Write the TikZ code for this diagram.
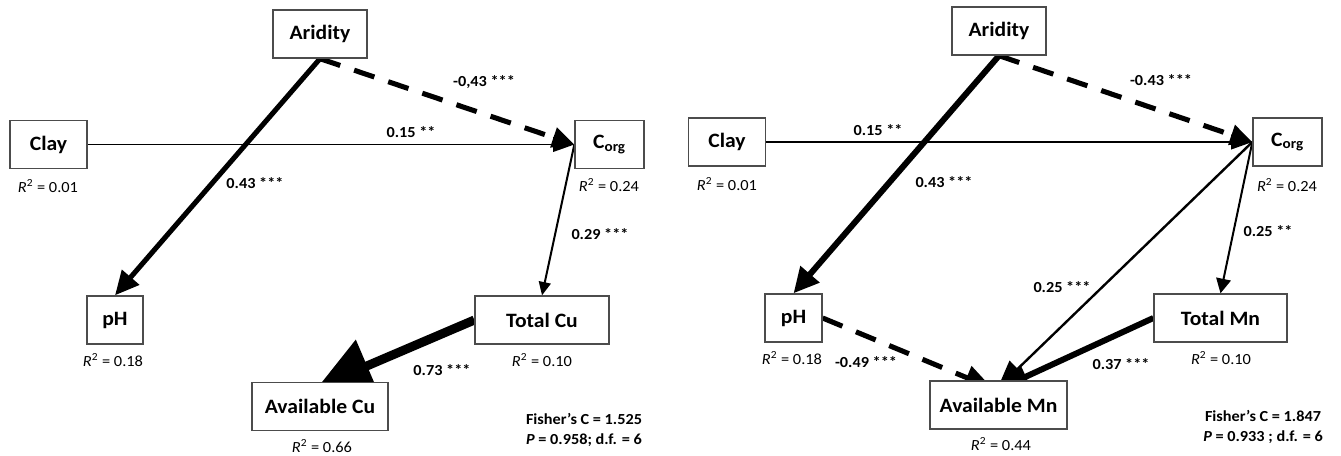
\documentclass[tikz,border=0pt]{standalone}
\usepackage{fontspec}
\setmainfont{Carlito}[FakeStretch=1.06]
\usetikzlibrary{arrows.meta, calc}
\pgfdeclarelayer{back}
\pgfsetlayers{back,main}

\begin{document}
\begin{tikzpicture}[
    x=0.75pt, y=-0.75pt,
    var/.style={draw=black!70, line width=1pt, fill=white, inner sep=0pt,
      minimum height=36pt, font=\bfseries\fontsize{15.3}{18}\selectfont},
    rsq/.style={inner sep=0pt, font=\fontsize{11.6}{13}\selectfont},
    coef/.style={inner sep=0pt, font=\bfseries\fontsize{11.5}{13}\selectfont},
    stats/.style={inner sep=0pt, align=center, font=\bfseries\fontsize{11.5}{15}\selectfont},
    weak/.style={line width=1.5pt, -{Triangle[length=10pt, width=9pt]}},
    strong/.style={line width=3.8pt, -{Triangle[length=18pt, width=16.5pt]}},
    neg/.style={strong, dash pattern=on 16pt off 11pt}
]
\useasboundingbox (0,0) rectangle (1341,455);

\node[var, minimum width=70.5pt] (ar1) at (320,34) {Aridity};
\node[var, minimum width=57.75pt] (cl1) at (48.5,144.5) {Clay};
\node[var, minimum width=51.75pt] (co1) at (609.5,144.5) {C\textsubscript{org}};
\node[var, minimum width=42pt] (ph1) at (115,320) {pH};
\node[var, minimum width=100.5pt] (tc1) at (542,320) {Total Cu};
\node[var, minimum width=102pt] (av1) at (320,406.5) {Available Cu};

\node[rsq] (rcl1) at (48,186) {\textit{R}\textsuperscript{2} = 0.01};
\node[rsq] (rco1) at (609,185) {\textit{R}\textsuperscript{2} = 0.24};
\node[rsq] (rph1) at (113,360) {\textit{R}\textsuperscript{2} = 0.18};
\node[rsq] (rtc1) at (542,360) {\textit{R}\textsuperscript{2} = 0.10};
\node[rsq] (rav1) at (322,446) {\textit{R}\textsuperscript{2} = 0.66};

\node[coef] (k11) at (484,82) {-0,43 ***};
\node[coef] (k12) at (411,132) {0.15 **};
\node[coef] (k13) at (255,183) {0.43 ***};
\node[coef] (k14) at (600,234) {0.29 ***};
\node[coef] (k15) at (442,370) {0.73 ***};
\node[stats] (fs1) at (584,430) {Fisher’s C = 1.525\\\textit{P} = 0.958; d.f. = 6};

\node[var, minimum width=70.5pt] (ar2) at (999,31) {Aridity};
\node[var, minimum width=57.75pt] (cl2) at (727,142) {Clay};
\node[var, minimum width=51.75pt] (co2) at (1287.5,142) {C\textsubscript{org}};
\node[var, minimum width=42.75pt] (ph2) at (793.5,318) {pH};
\node[var, minimum width=99.75pt] (tm2) at (1220.5,318) {Total Mn};
\node[var, minimum width=102.75pt] (av2) at (998.5,405) {Available Mn};

\node[rsq] (rcl2) at (727,184) {\textit{R}\textsuperscript{2} = 0.01};
\node[rsq] (rco2) at (1287,185) {\textit{R}\textsuperscript{2} = 0.24};
\node[rsq] (rph2) at (792,358) {\textit{R}\textsuperscript{2} = 0.18};
\node[rsq] (rtm2) at (1221,358) {\textit{R}\textsuperscript{2} = 0.10};
\node[rsq] (rav2) at (1001,444) {\textit{R}\textsuperscript{2} = 0.44};

\node[coef] (k21) at (1161,80) {-0.43 ***};
\node[coef] (k22) at (878,130) {0.15 **};
\node[coef] (k23) at (944,182) {0.43 ***};
\node[coef] (k24) at (1268,231) {0.25 **};
\node[coef] (k25) at (1062,287) {0.25 ***};
\node[coef] (k26) at (866,362) {-0.49 ***};
\node[coef] (k27) at (1121,364) {0.37 ***};
\node[stats] (fs2) at (1263,427) {Fisher’s C = 1.847\\\textit{P} = 0.933 ; d.f. = 6};

\begin{pgfonlayer}{back}
\draw[strong] (ar1.south) -- (ph1.north);
\draw[neg, -{Triangle[length=16.5pt, width=15pt]}] (ar1.south) -- (co1.west);
\draw[weak, line width=1.3pt, -{Triangle[length=16pt, width=11pt]}] (cl1.east) -- (co1.west);
\draw[weak] (co1.west) -- (tc1.north);
\draw[line width=6.75pt, -{Triangle[length=40pt, width=41pt]}] (tc1.west) -- ($(av1.north)+(-2,5)$);

\draw[strong, line width=4.5pt, -{Triangle[length=19pt, width=18pt]}] (ar2.south) -- (ph2.north);
\draw[neg, -{Triangle[length=16.5pt, width=15pt]}] (ar2.south) -- (co2.west);
\draw[weak, line width=1.3pt, -{Triangle[length=16pt, width=11pt]}] (cl2.east) -- (co2.west);
\draw[weak, -{Triangle[length=11pt, width=11pt]}] (co2.west) -- (tm2.north);
\draw[weak, line width=1.8pt, -{Triangle[length=21pt, width=17pt]}] (co2.west) -- ($(av2.north)+(-1,8)$);
\draw[neg, -{Triangle[length=21pt, width=18pt]}] (ph2.east) -- ($(av2.north)+(-6,8)$);
\draw[strong, line width=4.5pt, -{Triangle[length=21pt, width=18pt]}] (tm2.west) -- ($(av2.north)+(2,8)$);
\end{pgfonlayer}
\end{tikzpicture}
\end{document}
